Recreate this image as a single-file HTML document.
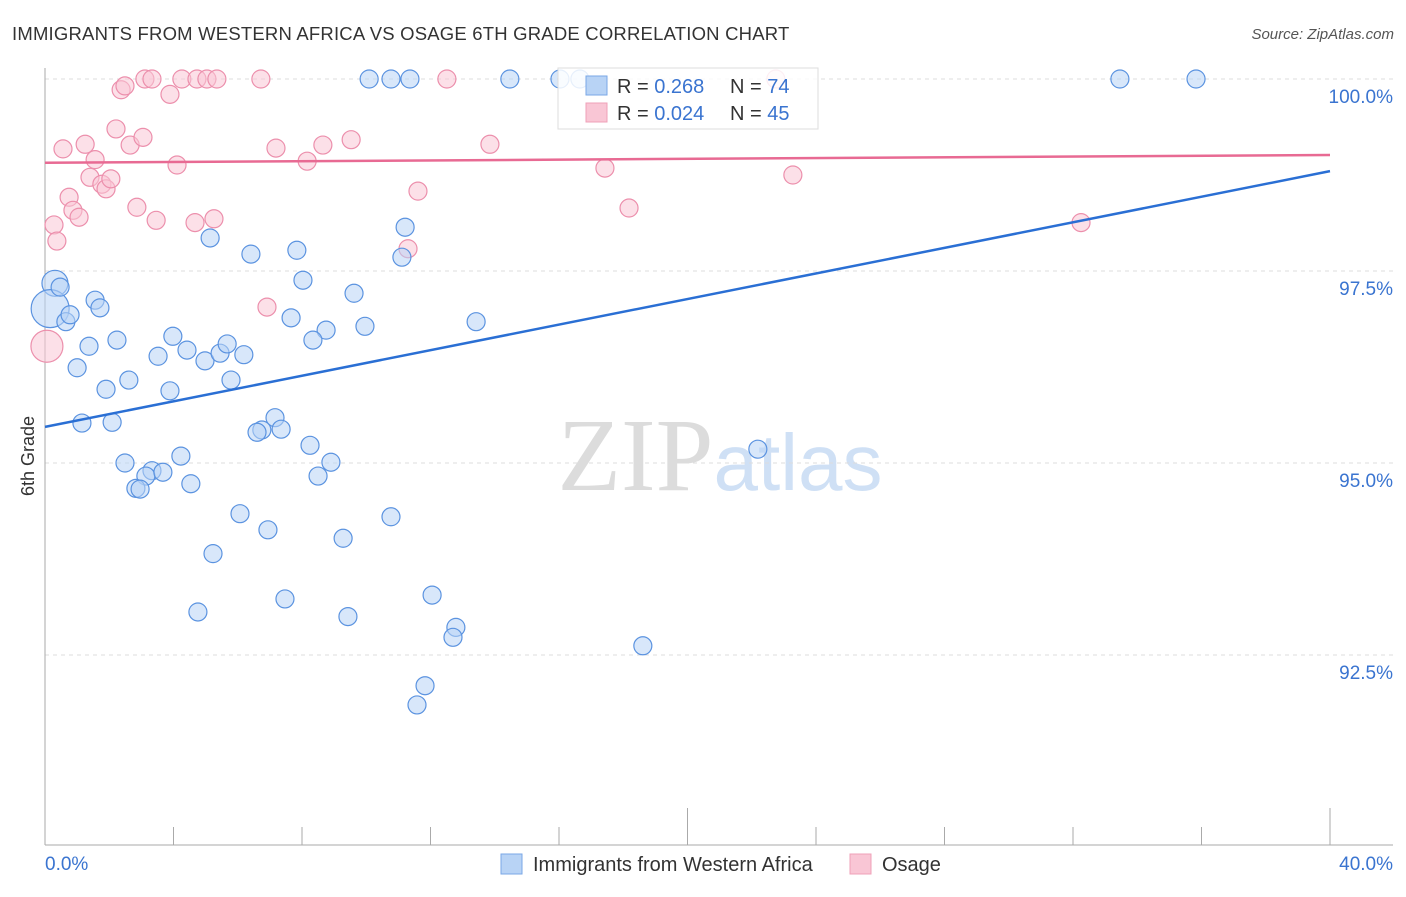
<!DOCTYPE html>
<html><head><meta charset="utf-8"><style>
body{margin:0;background:#fff;font-family:"Liberation Sans",sans-serif;}
svg text{font-family:"Liberation Sans",sans-serif;}
</style></head><body>
<svg id="chart" width="1406" height="892" xmlns="http://www.w3.org/2000/svg">
<text x="12" y="40" font-size="18.5" letter-spacing="0.2" fill="#333">IMMIGRANTS FROM WESTERN AFRICA VS OSAGE 6TH GRADE CORRELATION CHART</text>
<text x="1394" y="39" font-size="15" fill="#555" text-anchor="end" font-style="italic">Source: ZipAtlas.com</text>
<text x="720" y="490" font-size="104" text-anchor="middle"><tspan fill="#dcdcdc" font-family="Liberation Serif">ZIP</tspan><tspan fill="#cfe0f5" font-size="80">atlas</tspan></text>
<g id="grid"></g><g id="axes"></g><g id="points"></g><g id="trends"></g>
<text transform="translate(34,456) rotate(-90)" font-size="18" fill="#333" text-anchor="middle">6th Grade</text>
<g>
<rect x="558" y="68" width="260" height="61" fill="#fff" fill-opacity="0.85" stroke="#ddd"/>
<rect x="586" y="76" width="21" height="19" fill="#b8d3f5" stroke="#7aa7e6"/>
<rect x="586" y="103" width="21" height="19" fill="#f9c6d5" stroke="#efa0b8"/>
<text x="617" y="93" font-size="20" fill="#333">R = <tspan fill="#3a74d0">0.268</tspan><tspan x="730">N = </tspan><tspan fill="#3a74d0">74</tspan></text>
<text x="617" y="120" font-size="20" fill="#333">R = <tspan fill="#3a74d0">0.024</tspan><tspan x="730">N = </tspan><tspan fill="#3a74d0">45</tspan></text>
</g>
<g>
<rect x="501" y="854" width="21" height="20" fill="#b8d3f5" stroke="#7aa7e6"/>
<text x="533" y="871" font-size="20" fill="#333">Immigrants from Western Africa</text>
<rect x="850" y="854" width="21" height="20" fill="#f9c6d5" stroke="#efa0b8"/>
<text x="882" y="871" font-size="20" fill="#333">Osage</text>
</g>
</svg>
<script>
const yTicks=[100,97.5,95,92.5];
const yTickLabels=["100.0%","97.5%","95.0%","92.5%"];
const xTicks=[0,4,8,12,16,20,24,28,32,36,40];
const blueX=[0.31,0.16,0.47,0.65,0.78,1.56,1.71,1.00,1.37,2.24,1.90,2.61,1.15,2.09,3.52,3.98,4.42,4.98,5.45,5.67,6.19,5.79,3.89,5.14,6.41,7.84,8.03,7.66,8.75,8.34,9.62,9.96,11.21,11.11,13.42,7.16,6.75,6.60,7.35,8.25,8.90,8.50,4.23,2.49,3.33,3.14,3.67,4.54,2.83,2.96,6.07,6.94,5.23,9.28,10.77,4.76,7.47,9.43,12.05,12.79,12.70,11.83,11.58,18.61,22.19,10.09,10.77,11.36,14.47,16.03,16.65,33.46,35.83];
const blueY=[97.34,97.01,97.29,96.84,96.93,97.12,97.02,96.24,96.52,96.60,95.96,96.08,95.52,95.53,96.39,96.65,96.47,96.33,96.43,96.55,96.41,96.08,95.94,97.93,97.72,97.77,97.38,96.89,96.73,96.60,97.21,96.78,98.07,97.68,96.84,95.59,95.43,95.40,95.44,95.23,95.01,94.83,95.09,95.00,94.90,94.83,94.88,94.73,94.67,94.66,94.34,94.13,93.82,94.02,94.30,93.06,93.23,93.00,93.28,92.86,92.73,92.10,91.85,92.62,95.18,100,100,100,100,100,100,100,100];
const blueR=[13,19];
const pinkX=[0.28,0.37,0.06,0.56,0.75,0.87,1.06,1.25,1.40,1.56,1.77,1.90,2.05,2.21,2.37,2.49,2.65,2.86,3.05,3.11,3.33,3.46,3.89,4.11,4.26,4.73,5.04,5.35,4.67,5.26,6.72,6.91,7.19,8.16,8.65,9.53,11.30,11.61,12.51,13.85,17.43,18.18,22.75,23.28,32.25];
const pinkY=[98.10,97.89,96.52,99.09,98.46,98.29,98.20,99.15,98.72,98.95,98.63,98.57,98.70,99.35,99.86,99.91,99.14,98.33,99.24,100,100,98.16,99.80,98.88,100,100,100,100,98.13,98.18,100,97.03,99.10,98.93,99.14,99.21,97.79,98.54,100,99.15,98.84,98.32,100,98.75,98.13];
const pinkR=[9,9,16];
const blueTrend=[95.47,98.80];
const pinkTrend=[98.91,99.01];
const NS="http://www.w3.org/2000/svg";
const xs=v=>45+v/40*1285;
const ys=v=>79+(100-v)/2.5*192;
function mk(t,a,p){const e=document.createElementNS(NS,t);for(const k in a)e.setAttribute(k,a[k]);p.appendChild(e);return e;}
const grid=document.getElementById('grid'),axes=document.getElementById('axes'),pts=document.getElementById('points'),tr=document.getElementById('trends');
yTicks.forEach((t,i)=>{
 const l=mk('line',{x1:45,x2:1393,y1:ys(t),y2:ys(t),stroke:'#ddd','stroke-dasharray':'4,4'},grid);
 
 
 const tx=mk('text',{x:1393,y:ys(t)+24,'font-size':19,fill:'#3a74d0','text-anchor':'end'},axes);
 tx.textContent=yTickLabels[i];
 
 
});
let a=mk('line',{x1:45,x2:45,y1:68,y2:845,stroke:'#aaa'},axes);

a=mk('line',{x1:45,x2:1393,y1:845,y2:845,stroke:'#aaa'},axes);

xTicks.forEach(t=>{
 const major=(t%20===0);
 const l=mk('line',{x1:xs(t),x2:xs(t),y1:major?808:827,y2:845,stroke:'#aaa'},axes);
 
 
});
let t0=mk('text',{x:45,y:870,'font-size':19,fill:'#3a74d0'},axes);t0.textContent='0.0%';

t0=mk('text',{x:1393,y:870,'font-size':19,fill:'#3a74d0','text-anchor':'end'},axes);t0.textContent='40.0%';

pinkX.forEach((x,i)=>{
 const c=mk('circle',{cx:xs(x),cy:ys(pinkY[i]),r:pinkR[i]||9,fill:'#f9c6d5','fill-opacity':0.55,stroke:'#ec8fac','stroke-width':1.2},pts);
 
 
});
blueX.forEach((x,i)=>{
 const c=mk('circle',{cx:xs(x),cy:ys(blueY[i]),r:blueR[i]||9,fill:'#b8d3f5','fill-opacity':0.55,stroke:'#5b93e0','stroke-width':1.2},pts);
 
 
});
let l=mk('line',{x1:xs(0),x2:xs(40),y1:ys(pinkTrend[0]),y2:ys(pinkTrend[1]),stroke:'#e86a93','stroke-width':2.5},tr);

l=mk('line',{x1:xs(0),x2:xs(40),y1:ys(blueTrend[0]),y2:ys(blueTrend[1]),stroke:'#2a6fd4','stroke-width':2.5},tr);

</script>
</body></html>
